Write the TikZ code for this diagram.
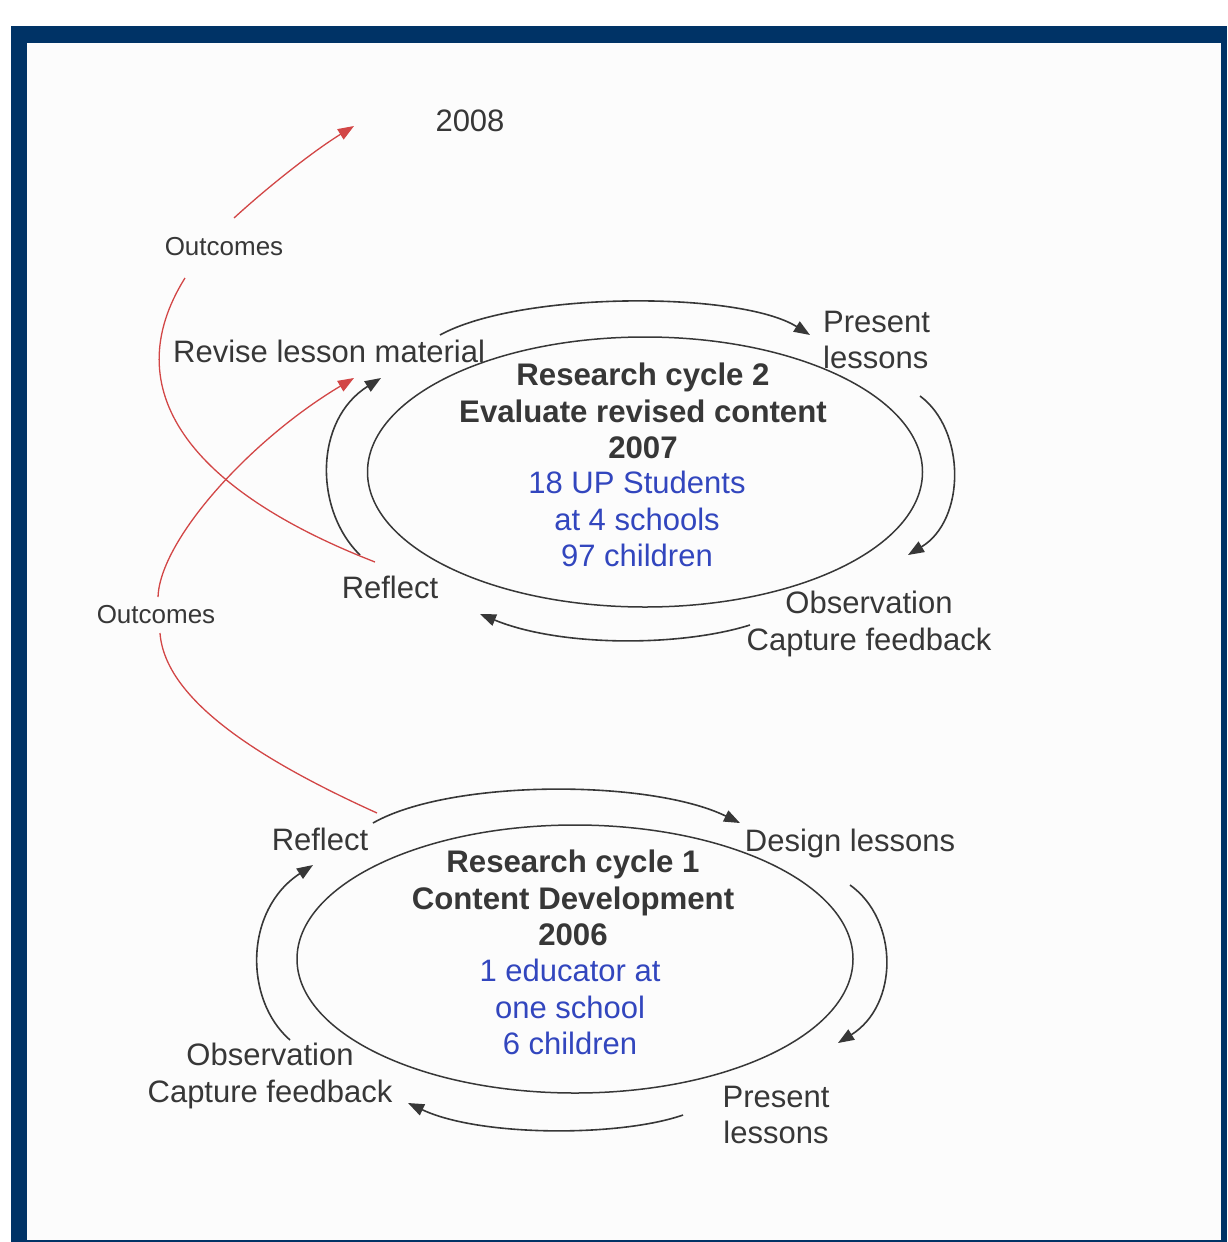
\documentclass[tikz,border=0pt]{standalone}
\usepackage{fontspec}
\setmainfont{Liberation Sans}
\usetikzlibrary{arrows.meta,shapes.geometric}
\definecolor{frameblue}{RGB}{0,51,102}
\definecolor{bgcol}{RGB}{252,252,252}
\definecolor{txt}{RGB}{55,55,55}
\definecolor{bluetxt}{RGB}{50,70,190}
\definecolor{redline}{RGB}{210,70,70}
\begin{document}
\begin{tikzpicture}[x=1pt,y=-1pt,
  lbl/.style={text=txt, font=\fontsize{31}{36.4}\selectfont, inner sep=0pt},
  smalllbl/.style={text=txt, font=\fontsize{26}{30}\selectfont, inner sep=0pt},
  boldlbl/.style={text=txt, font=\fontsize{31.2}{36.4}\selectfont\bfseries, inner sep=0pt, align=center},
  bluelbl/.style={text=bluetxt, font=\fontsize{31}{36.4}\selectfont, inner sep=0pt, align=center},
  cyc/.style={draw=txt, line width=1.5pt, ellipse, inner sep=0pt},
  arc/.style={draw=txt, line width=1.6pt, -{Triangle[length=16pt,width=12pt]}},
  redarc/.style={draw=redline, line width=1.3pt},
  redarrow/.style={draw=redline, line width=1.3pt, -{Triangle[length=16pt,width=12pt]}}
]
% frame
\fill[white] (0,0) rectangle (1227,1242);
\fill[frameblue] (11,26) rectangle (1227,1242);
\fill[bgcol] (27,43) rectangle (1221,1240);
\useasboundingbox (0,0) rectangle (1227,1242);

% ellipses
\node[cyc, minimum width=555pt, minimum height=270pt] (cyc2) at (645,472) {};
\node[cyc, minimum width=556pt, minimum height=268pt] (cyc1) at (575,959) {};

% cycle texts
\node[boldlbl] (t2) at (643,411) {Research cycle 2\\Evaluate revised content\\2007};
\node[bluelbl] (b2) at (637,519) {18 UP Students\\at 4 schools\\97 children};
\node[boldlbl] (t1) at (573,898) {Research cycle 1\\Content Development\\2006};
\node[bluelbl] (b1) at (570,1007) {1 educator at\\one school\\6 children};

% labels
\node[lbl] (y2008) at (470,121) {2008};
\node[smalllbl] (out2) at (224,247) {Outcomes};
\node[lbl, anchor=west] (revise) at (173,351) {Revise lesson material};
\node[lbl, align=left, anchor=west] (present2) at (823,340) {Present\\lessons};
\node[lbl] (reflect2) at (390,587) {Reflect};
\node[smalllbl] (out1) at (156,615) {Outcomes};
\node[lbl, align=center] (obs2) at (869,624) {Observation\\Capture feedback};
\node[lbl] (reflect1) at (320,839) {Reflect};
\node[lbl] (design) at (850,843) {Design lessons};
\node[lbl, align=center] (obs1) at (270,1076) {Observation\\Capture feedback};
\node[lbl, align=center] (present1) at (776,1115) {Present\\lessons};

% named end points
\coordinate (a2s) at (440,335); \coordinate (a2e) at (810,335);
\coordinate (b2s) at (920,396); \coordinate (b2e) at (908,555);
\coordinate (c2s) at (750,625); \coordinate (c2e) at (480,614);
\coordinate (d2s) at (360,555); \coordinate (d2e) at (381,378);
\coordinate (a1s) at (373,823); \coordinate (a1e) at (740,823);
\coordinate (b1s) at (850,885); \coordinate (b1e) at (838,1043);
\coordinate (c1s) at (683,1115); \coordinate (c1e) at (408,1103);
\coordinate (d1s) at (290,1040); \coordinate (d1e) at (313,865);
\coordinate (rf2) at (375,562); \coordinate (o2b) at (185,278);
\coordinate (o2t) at (234,218); \coordinate (tip08) at (354,126);
\coordinate (rf1) at (377,813); \coordinate (o1b) at (160,633);
\coordinate (o1t) at (158,597); \coordinate (tiprv) at (354,378);

% cycle 2 arrows
\draw[arc] (a2s) .. controls (520,291) and (740,291) .. (a2e);
\draw[arc] (b2s) .. controls (966,430) and (966,520) .. (b2e);
\draw[arc] (c2s) .. controls (680,647) and (560,647) .. (c2e);
\draw[arc] (d2s) .. controls (314,510) and (314,420) .. (d2e);

% cycle 1 arrows
\draw[arc] (a1s) .. controls (450,779) and (650,779) .. (a1e);
\draw[arc] (b1s) .. controls (899,920) and (899,1005) .. (b1e);
\draw[arc] (c1s) .. controls (620,1137) and (480,1137) .. (c1e);
\draw[arc] (d1s) .. controls (244,1000) and (244,910) .. (d1e);

% red outcome connectors
\draw[redarc] (rf2) .. controls (190,490) and (115,390) .. (o2b);
\draw[redarrow] (o2t) .. controls (270,185) and (315,150) .. (tip08);
\draw[redarc] (rf1) .. controls (260,760) and (165,700) .. (o1b);
\draw[redarrow] (o1t) .. controls (160,540) and (250,440) .. (tiprv);
\end{tikzpicture}
\end{document}
